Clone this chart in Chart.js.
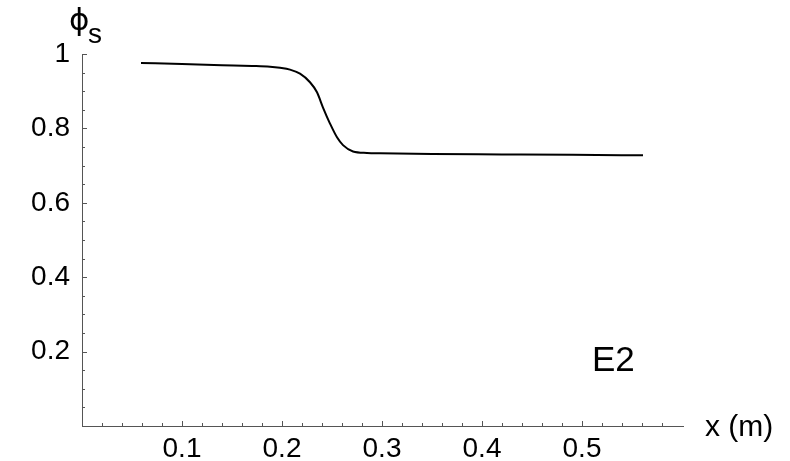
<!DOCTYPE html>
<html>
<head>
<meta charset="utf-8">
<script src="https://cdn.jsdelivr.net/npm/chart.js@4.4.1/dist/chart.umd.min.js"></script>
<style>
  html, body { margin: 0; padding: 0; background: #fff; }
  #wrap { width: 790px; height: 461px; }
</style>
</head>
<body>
<div id="wrap"><canvas id="phiChart" width="790" height="461"></canvas></div>
<script>
// values
var xPos = [0.059, 0.10, 0.14, 0.17, 0.188, 0.198, 0.208, 0.218, 0.228, 0.235, 0.241, 0.248, 0.255, 0.261, 0.271, 0.285, 0.298, 0.35, 0.42, 0.49, 0.561];
var phiS = [0.976, 0.973, 0.970, 0.968, 0.966, 0.963, 0.958, 0.947, 0.924, 0.897, 0.856, 0.813, 0.776, 0.755, 0.738, 0.734, 0.733, 0.731, 0.730, 0.729, 0.7275];
var xTicks = [0.1, 0.2, 0.3, 0.4, 0.5];
var yTicks = [0.2, 0.4, 0.6, 0.8, 1];
var caseLabel = 'E2';

var axisColor = '#555';
var font = '"Liberation Sans", Arial, sans-serif';

var points = [];
for (var i in xPos) {
  points.push({x: xPos[i], y: phiS[i]});
}

// mathematica-style inward ticks + labels
var decor = {
  id: 'decor',
  beforeDraw: function(chart) {
    var c = chart.ctx;
    c.save();
    c.fillStyle = '#fff';
    c.fillRect(0, 0, chart.width, chart.height);
    c.restore();
  },
  afterDraw: function(chart) {
    var c = chart.ctx;
    var xs = chart.scales.x, ys = chart.scales.y;
    var x0 = xs.getPixelForValue(0), y0 = ys.getPixelForValue(0);
    c.save();
    c.strokeStyle = axisColor;
    c.lineWidth = 1;
    c.beginPath();
    var v, p;
    for (v = 0.02; v < 0.6; v += 0.02) {
      p = Math.round(xs.getPixelForValue(v)) + 0.5;
      var major = Math.abs(v * 10 - Math.round(v * 10)) < 1e-6;
      c.moveTo(p, y0);
      c.lineTo(p, y0 - (major ? 5 : 3));
    }
    for (v = 0.05; v < 1.001; v += 0.05) {
      p = Math.round(ys.getPixelForValue(v)) + 0.5;
      var majorY = Math.abs(v * 5 - Math.round(v * 5)) < 1e-6;
      c.moveTo(x0, p);
      c.lineTo(x0 + (majorY ? 5 : 3), p);
    }
    c.stroke();

    c.fillStyle = '#000';
    c.textBaseline = 'alphabetic';
    c.textAlign = 'left';
    c.font = '31px "DejaVu Sans", ' + font;
    c.fillText('\u03D5', 69, 30);
    c.font = '28px ' + font;
    c.fillText('s', 88, 43);
    c.font = '35px ' + font;
    c.fillText(caseLabel, 592, 371);
    c.font = '30px ' + font;
    c.fillText('x (m)', 705, 436);
    c.restore();
  }
};

var ctx = document.getElementById('phiChart');
var chart = new Chart(ctx, {
  type: 'scatter',
  data: {
    datasets: [{
      data: points,
      showLine: true,
      borderColor: '#000',
      borderWidth: 2,
      pointRadius: 0,
      cubicInterpolationMode: 'monotone',
      fill: false
    }]
  },
  options: {
    responsive: false,
    animation: false,
    layout: { padding: { top: 54, right: 107, left: 0, bottom: 0 } },
    plugins: { legend: { display: false }, tooltip: { enabled: false } },
    scales: {
      x: {
        type: 'linear',
        min: 0,
        max: 0.601,
        grid: { display: false, drawTicks: false },
        border: { display: true, color: axisColor, width: 1 },
        afterBuildTicks: function(scale) {
          scale.ticks = xTicks.map(function(t) { return {value: t}; });
        },
        afterFit: function(scale) { scale.height = 35; },
        ticks: {
          color: '#000',
          font: { family: font, size: 28 },
          padding: 6,
          maxRotation: 0,
          autoSkip: false,
          callback: function(v) { return String(v); }
        }
      },
      y: {
        type: 'linear',
        min: 0,
        max: 1,
        grid: { display: false, drawTicks: false },
        border: { display: true, color: axisColor, width: 1 },
        afterBuildTicks: function(scale) {
          scale.ticks = yTicks.map(function(t) { return {value: t}; });
        },
        afterFit: function(scale) { scale.width = 82; },
        ticks: {
          color: '#000',
          font: { family: font, size: 28 },
          padding: 12,
          autoSkip: false,
          callback: function(v) { return String(v); }
        }
      }
    }
  },
  plugins: [decor]
});
</script>
</body>
</html>
